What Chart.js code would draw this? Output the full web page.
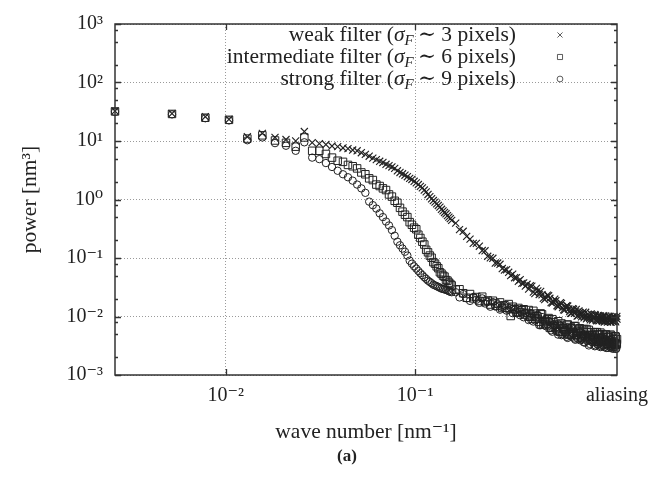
<!DOCTYPE html>
<html>
<head>
<meta charset="utf-8">
<script src="https://cdn.jsdelivr.net/npm/chart.js@4.4.1/dist/chart.umd.min.js"></script>
<style>
html,body{margin:0;padding:0;background:#fff;}
#wrap{position:relative;width:662px;height:494px;}
</style>
</head>
<body>
<div id="wrap"><canvas id="c" width="662" height="494"></canvas></div>
<script>
// ---------------- data ----------------
const waveNumber = [
  0.0026,0.0052,0.0078,0.0104,0.013,0.0156,0.0182,0.0208,0.0234,0.026,
  0.0286,0.0312,0.0338,0.0364,0.039,0.0416,0.0442,0.0468,0.0494,0.052,
  0.0546,0.0572,0.0598,0.0624,0.065,0.0676,0.0702,0.0728,0.0754,0.078,
  0.0806,0.0832,0.0858,0.0884,0.091,0.0936,0.0962,0.0988,0.1014,0.104,
  0.1066,0.1092,0.1118,0.1144,0.117,0.1196,0.1222,0.1248,0.1274,0.13,
  0.1326,0.1352,0.1378,0.1404,0.143,0.1456,0.1482,0.1508,0.1534,0.156,
  0.1638,0.1716,0.1794,0.1872,0.195,0.2028,0.2106,0.2184,0.2262,0.234,
  0.2418,0.2496,0.2574,0.2652,0.273,0.2808,0.2886,0.2964,0.3042,0.312,
  0.3198,0.3276,0.3354,0.3432,0.351,0.3588,0.3666,0.3744,0.3822,0.39,
  0.3978,0.4056,0.4134,0.4212,0.429,0.4368,0.4446,0.4524,0.4602,0.468,
  0.4758,0.4836,0.4914,0.4992,0.507,0.5148,0.5226,0.5304,0.5382,0.546,
  0.5538,0.5616,0.5694,0.5772,0.585,0.5928,0.6006,0.6084,0.6162,0.624,
  0.6318,0.6396,0.6474,0.6552,0.663,0.6708,0.6786,0.6864,0.6942,0.702,
  0.7098,0.7176,0.7254,0.7332,0.741,0.7488,0.7566,0.7644,0.7722,0.78,
  0.7878,0.7956,0.8034,0.8112,0.819,0.8268,0.8346,0.8424,0.8502,0.858,
  0.8658,0.8736,0.8814,0.8892,0.897,0.9048,0.9126,0.9204,0.9282,0.936,
  0.9438,0.9516,0.9594,0.9672,0.975,0.9828,0.9906,0.9984,1.0062,1.014,
  1.0218,1.0296,1.0374,1.0452,1.053,1.0608,1.0686,1.0764,1.0842,1.092,
  1.0998,1.1076,1.1154,1.1232,1.131,1.1388,1.1466,1.1544,1.1622,1.1648
];
const weakPower = [
  32.5,29.5,26,23.5,11.8,13.5,11.5,10.6,10,14.5,
  9.4,9.0,8.7,8.2,8.0,7.6,7.4,7.0,6.8,6.3,
  5.9,5.5,5.1,4.8,4.5,4.3,4.0,3.8,3.6,3.4,
  3.1,2.9,2.75,2.6,2.45,2.3,2.2,2.05,1.92,1.8,
  1.68,1.58,1.45,1.35,1.22,1.12,1.03,0.96,0.9,0.84,
  0.79,0.74,0.68,0.64,0.6,0.57,0.53,0.5,0.47,0.44,
  0.395,0.305,0.286,0.234,0.21,0.178,0.178,0.159,0.134,0.133,
  0.107,0.101,0.099,0.082,0.082,0.078,0.066,0.062,0.063,0.057,
  0.050,0.053,0.046,0.046,0.040,0.0425,0.0369,0.0374,0.0331,0.0355,
  0.0294,0.0335,0.0330,0.0261,0.0246,0.0302,0.0273,0.0238,0.0269,0.0235,
  0.0205,0.0194,0.0209,0.0231,0.0226,0.0205,0.0173,0.0170,0.0180,0.0198,
  0.0186,0.0153,0.0147,0.0155,0.0172,0.0167,0.0142,0.0130,0.0129,0.0146,
  0.0153,0.0151,0.0135,0.0121,0.0113,0.0113,0.0136,0.0133,0.0113,0.0120,
  0.0132,0.0102,0.0103,0.0125,0.0117,0.0106,0.0099,0.0114,0.0119,0.0095,
  0.0101,0.0118,0.0091,0.0096,0.0109,0.0103,0.0093,0.0088,0.0111,0.0107,
  0.0087,0.0094,0.0096,0.0108,0.0105,0.0086,0.0084,0.0098,0.0104,0.0084,
  0.0087,0.0102,0.0098,0.0087,0.0083,0.0098,0.0103,0.0080,0.0084,0.0102,
  0.0095,0.0084,0.0080,0.0090,0.0101,0.0099,0.0085,0.0080,0.0080,0.0093,
  0.0098,0.0082,0.0083,0.0100,0.0096,0.0085,0.0081,0.0093,0.0100,0.0090
];
const intermediatePower = [
  32,29,25,23,11,12.5,10.2,9.3,8.0,11.5,
  6.8,6.8,6.0,5.2,4.6,4.4,3.9,3.7,3.4,2.9,
  2.7,2.3,2.15,1.8,1.7,1.55,1.45,1.22,1.12,0.95,
  0.88,0.72,0.62,0.55,0.5,0.41,0.37,0.33,0.31,0.25,
  0.22,0.19,0.17,0.138,0.125,0.11,0.101,0.085,0.08,0.072,
  0.067,0.057,0.054,0.05,0.048,0.042,0.041,0.038,0.036,0.034,
  0.0288,0.0292,0.025,0.0209,0.0242,0.0204,0.0215,0.0184,0.0218,0.0181,
  0.0188,0.0160,0.0186,0.0167,0.0151,0.0174,0.0140,0.0156,0.0141,0.0163,
  0.0102,0.0147,0.0133,0.0117,0.0140,0.0119,0.0128,0.0133,0.0108,0.0115,
  0.0129,0.0099,0.0092,0.0125,0.0112,0.0101,0.0091,0.0081,0.0113,0.0109,
  0.0074,0.0080,0.0084,0.0090,0.0094,0.0064,0.0065,0.0090,0.0080,0.0067,
  0.0063,0.0073,0.0083,0.0056,0.0055,0.0076,0.0067,0.0063,0.0060,0.0055,
  0.0072,0.0073,0.0049,0.0050,0.0066,0.0063,0.0052,0.0054,0.0068,0.0069,
  0.0049,0.0046,0.0057,0.0060,0.0063,0.0051,0.0044,0.0043,0.0057,0.0061,
  0.0046,0.0045,0.0061,0.0054,0.0042,0.0059,0.0048,0.0040,0.0054,0.0048,
  0.0039,0.0040,0.0049,0.0054,0.0042,0.0037,0.0054,0.0049,0.0038,0.0042,
  0.0049,0.0053,0.0035,0.0037,0.0050,0.0044,0.0040,0.0038,0.0037,0.0049,
  0.0049,0.0034,0.0035,0.0045,0.0044,0.0039,0.0037,0.0049,0.0047,0.0034,
  0.0032,0.0042,0.0041,0.0034,0.0035,0.0046,0.0045,0.0033,0.0034,0.0041
];
const strongPower = [
  31.5,28.5,24.5,22.5,10.3,11.5,9.2,8.3,6.8,9.5,
  5.2,4.9,4.2,3.6,3.1,2.7,2.4,2.1,1.8,1.55,
  1.3,0.92,0.8,0.7,0.58,0.5,0.42,0.36,0.3,0.24,
  0.19,0.165,0.145,0.128,0.11,0.09,0.08,0.072,0.066,0.06,
  0.055,0.051,0.047,0.044,0.041,0.039,0.037,0.035,0.034,0.033,
  0.032,0.031,0.030,0.0295,0.029,0.0285,0.028,0.027,0.0265,0.026,
  0.026,0.0212,0.0242,0.0204,0.0185,0.0216,0.0193,0.0171,0.0204,0.0167,
  0.0177,0.0147,0.0176,0.0149,0.0161,0.0131,0.0145,0.0154,0.0126,0.0130,
  0.0142,0.0114,0.0130,0.0114,0.0132,0.0105,0.0112,0.0097,0.0116,0.0100,
  0.0087,0.0114,0.0112,0.0082,0.0086,0.0096,0.0107,0.0071,0.0071,0.0098,
  0.0085,0.0071,0.0068,0.0073,0.0084,0.0081,0.0058,0.0055,0.0073,0.0069,
  0.0059,0.0055,0.0049,0.0072,0.0070,0.0048,0.0050,0.0058,0.0059,0.0051,
  0.0045,0.0043,0.0060,0.0061,0.0047,0.0045,0.0061,0.0055,0.0042,0.0040,
  0.0049,0.0047,0.0041,0.0056,0.0054,0.0039,0.0041,0.0048,0.0049,0.0036,
  0.0036,0.0049,0.0044,0.0038,0.0049,0.0032,0.0034,0.0048,0.0044,0.0037,
  0.0036,0.0042,0.0045,0.0031,0.0032,0.0044,0.0039,0.0033,0.0033,0.0038,
  0.0044,0.0030,0.0031,0.0043,0.0039,0.0032,0.0032,0.0030,0.0041,0.0039,
  0.0029,0.0033,0.0036,0.0029,0.0031,0.0040,0.0040,0.0030,0.0029,0.0036,
  0.0037,0.0028,0.0030,0.0037,0.0038,0.0030,0.0028,0.0028,0.0034,0.0035
];
const seriesLabels = ['weak filter', 'intermediate filter', 'strong filter'];
const filterSigma = ['3', '6', '9'];
const yTickValues = [1e-3, 1e-2, 1e-1, 1e0, 1e1, 1e2, 1e3];
const yTickLabels = ['10\u207B\u00B3', '10\u207B\u00B2', '10\u207B\u00B9', '10\u2070', '10\u00B9', '10\u00B2', '10\u00B3'];
const xTickValues = [0.01, 0.1, 1.1648];
const xTickLabels = ['10\u207B\u00B2', '10\u207B\u00B9', 'aliasing'];
const xMin = 0.0026, xMax = 1.1648;

// ---------------- chart ----------------
const SERIF = '"Liberation Serif", "DejaVu Serif", serif';
const INK = '#222222';
const toXY = arr => arr.map((v, i) => ({x: waveNumber[i], y: v}));
const styles = ['crossRot', 'rect', 'circle'];
const radii = [5, 5.3, 3.7];
const borders = [1.15, 1.0, 1.0];

const framePlugin = {
  id: 'frame',
  afterDatasetsDraw(chart) {
    const {ctx, chartArea: a, scales: {x, y}} = chart;
    ctx.save();
    ctx.strokeStyle = '#333';
    ctx.lineWidth = 1.3;
    ctx.beginPath();
    yTickValues.forEach(v => {
      const py = Math.round(y.getPixelForValue(v)) + 0.5;
      ctx.moveTo(a.left, py); ctx.lineTo(a.left + 6, py);
      ctx.moveTo(a.right, py); ctx.lineTo(a.right - 6, py);
      [0.8, 0.5, 0.2].forEach(m => {
        const mv = v * m;
        if (mv < 1e-3) return;
        const my = Math.round(y.getPixelForValue(mv)) + 0.5;
        ctx.moveTo(a.left, my); ctx.lineTo(a.left + 3, my);
        ctx.moveTo(a.right, my); ctx.lineTo(a.right - 3, my);
      });
    });
    [0.01, 0.1].forEach(v => {
      const px = Math.round(x.getPixelForValue(v)) + 0.5;
      ctx.moveTo(px, a.bottom); ctx.lineTo(px, a.bottom - 6);
      ctx.moveTo(px, a.top); ctx.lineTo(px, a.top + 6);
    });
    ctx.stroke();
    ctx.lineWidth = 1.5;
    ctx.strokeRect(a.left, a.top, a.right - a.left, a.bottom - a.top);

    // legend
    const fs = 21.5;
    const normal = fs + 'px ' + SERIF;
    const ital = 'italic ' + fs + 'px ' + SERIF;
    const sub = 'italic ' + Math.round(fs * 0.7) + 'px ' + SERIF;
    ctx.textBaseline = 'alphabetic';
    seriesLabels.forEach((lab, i) => {
      const yb = 41 + 22 * i;
      const parts = [
        [lab + ' (', normal, 0],
        ['\u03C3', ital, 0],
        ['F', sub, 4],
        ['\u2009\u223C ' + filterSigma[i] + ' pixels)', normal, 0]
      ];
      let w = 0;
      parts.forEach(p => { ctx.font = p[1]; w += ctx.measureText(p[0]).width; });
      let xx = 516 - w;
      ctx.fillStyle = '#222';
      parts.forEach(p => {
        ctx.font = p[1];
        ctx.fillText(p[0], xx, yb + p[2]);
        xx += ctx.measureText(p[0]).width;
      });
      ctx.strokeStyle = '#333';
      ctx.fillStyle = 'rgba(0,0,0,0)';
      ctx.lineWidth = 0.8;
      Chart.helpers.drawPoint(ctx, {pointStyle: styles[i], radius: [3.6, 3.6, 2.9][i], borderWidth: 0.8, rotation: 0}, 560, yb - 6);
    });

    // caption
    ctx.fillStyle = '#222';
    ctx.font = 'bold 17px ' + SERIF;
    ctx.textAlign = 'center';
    ctx.textBaseline = 'middle';
    ctx.fillText('(a)', 347, 457);
    ctx.restore();
  }
};

new Chart(document.getElementById('c'), {
  type: 'scatter',
  data: {
    datasets: [weakPower, intermediatePower, strongPower].map((arr, i) => ({
      label: seriesLabels[i],
      data: toXY(arr),
      showLine: false,
      clip: false,
      pointStyle: styles[i],
      pointRadius: radii[i],
      pointHoverRadius: radii[i],
      pointBorderWidth: borders[i],
      pointBorderColor: INK,
      pointBackgroundColor: 'rgba(0,0,0,0)'
    }))
  },
  options: {
    responsive: false,
    devicePixelRatio: 1,
    animation: false,
    events: [],
    layout: {padding: {top: 17, right: 45, left: 0, bottom: 0}},
    plugins: {legend: {display: false}, tooltip: {enabled: false}},
    scales: {
      x: {
        type: 'logarithmic',
        min: xMin, max: xMax,
        afterBuildTicks: s => { s.ticks = xTickValues.map(v => ({value: v})); },
        afterFit: s => { s.height = 119; },
        ticks: {
          autoSkip: false, maxRotation: 0, padding: 9,
          color: '#222',
          font: {family: SERIF, size: 20},
          callback: (v, i) => xTickLabels[i]
        },
        grid: {
          drawTicks: false,
          color: c => (c.tick && c.tick.value === xMax) ? 'rgba(0,0,0,0)' : '#9a9a9a',
          lineWidth: 1
        },
        border: {display: false, dash: [1, 2]},
        title: {
          display: true, text: 'wave number [nm\u207B\u00B9]', color: '#222',
          font: {family: SERIF, size: 21.5}, padding: {top: 0, bottom: 49}
        }
      },
      y: {
        type: 'logarithmic',
        min: 1e-3, max: 1e3,
        afterBuildTicks: s => { s.ticks = yTickValues.map(v => ({value: v})); },
        afterFit: s => { s.width = 115; },
        ticks: {
          autoSkip: false, padding: 12,
          color: '#222',
          font: {family: SERIF, size: 20},
          callback: (v, i) => yTickLabels[i]
        },
        grid: {drawTicks: false, color: '#9a9a9a', lineWidth: 1},
        border: {display: false, dash: [1, 2]},
        title: {
          display: true, text: 'power [nm\u00B3]', color: '#222',
          font: {family: SERIF, size: 21.5}, padding: {top: 17, bottom: 0}
        }
      }
    }
  },
  plugins: [framePlugin]
});
</script>
</body>
</html>
